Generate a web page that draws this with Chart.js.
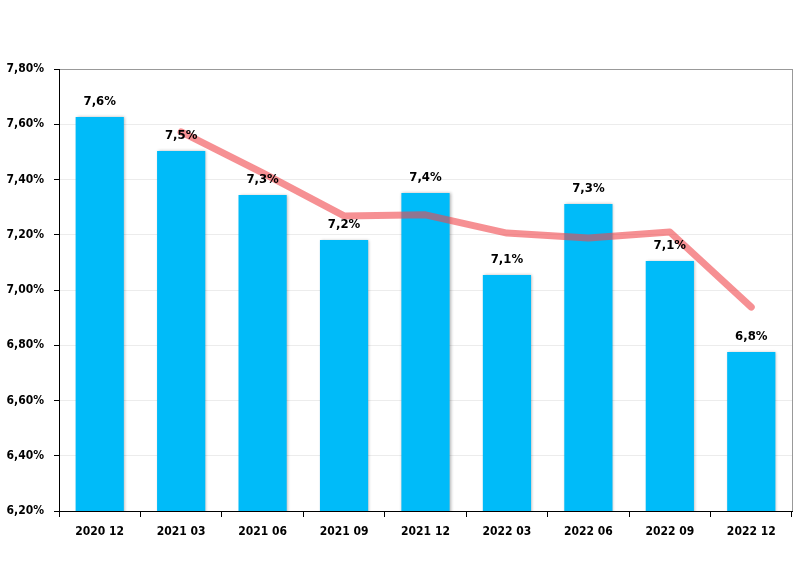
<!DOCTYPE html>
<html>
<head>
<meta charset="utf-8">
<script src="https://cdn.jsdelivr.net/npm/chart.js@4/dist/chart.umd.min.js"></script>
<style>
    html, body { margin: 0; padding: 0; background: #fff; }
    #wrap { width: 812px; height: 562px; }
</style>
</head>
<body>
<div id="wrap"><canvas id="myChart" width="812" height="562"></canvas></div>
<script>
// Chart data
const quarters = ['2020 12', '2021 03', '2021 06', '2021 09', '2021 12', '2022 03', '2022 06', '2022 09', '2022 12'];
const rateValues = [7.626, 7.503, 7.344, 7.181, 7.351, 7.054, 7.311, 7.105, 6.776];
const trendValues = [null, 7.572, 7.424, 7.268, 7.272, 7.206, 7.188, 7.210, 6.938];
const yTicks = [6.2, 6.4, 6.6, 6.8, 7.0, 7.2, 7.4, 7.6, 7.8];

const FONT = '"DejaVu Sans Condensed", "DejaVu Sans"';

function pct(v, digits) {
    return v.toFixed(digits).replace('.', ',') + '%';
}

// Bar shadow, labels above bars, right border of the plot
const extrasPlugin = {
    id: 'extras',
    beforeDatasetDraw(chart, args) {
        if (args.index === 0) {
            const ctx = chart.ctx;
            ctx.save();
            ctx.shadowColor = 'rgba(0,0,0,0.3)';
            ctx.shadowOffsetX = 1;
            ctx.shadowOffsetY = 0;
            ctx.shadowBlur = 3;
        }
    },
    afterDatasetDraw(chart, args) {
        if (args.index === 0) chart.ctx.restore();
    },
    afterDatasetsDraw(chart) {
        const ctx = chart.ctx;
        const area = chart.chartArea;
        ctx.save();
        ctx.strokeStyle = '#999';
        ctx.lineWidth = 1;
        ctx.beginPath();
        ctx.moveTo(area.right + 0.5, area.top);
        ctx.lineTo(area.right + 0.5, area.bottom);
        ctx.stroke();

        ctx.font = 'bold 13px ' + FONT;
        ctx.fillStyle = '#000';
        ctx.textAlign = 'center';
        ctx.textBaseline = 'middle';
        chart.getDatasetMeta(0).data.forEach((bar, i) => {
            ctx.fillText(pct(rateValues[i], 1), bar.x, bar.y - 15);
        });
        ctx.restore();
    }
};

const ctx = document.getElementById('myChart').getContext('2d');

new Chart(ctx, {
    type: 'bar',
    data: {
        labels: quarters,
        datasets: [{
            type: 'bar',
            data: rateValues,
            backgroundColor: '#00bbf9',
            barPercentage: 0.74,
            categoryPercentage: 0.8,
            order: 1
        }, {
            type: 'line',
            data: trendValues,
            borderColor: 'rgba(240, 70, 75, 0.6)',
            borderWidth: 7,
            borderCapStyle: 'round',
            borderJoinStyle: 'round',
            pointRadius: 0,
            tension: 0,
            fill: false,
            order: 0
        }]
    },
    plugins: [extrasPlugin],
    options: {
        responsive: false,
        animation: false,
        layout: { padding: { top: 69, right: 20, bottom: 0, left: 0 } },
        plugins: {
            legend: { display: false },
            tooltip: { enabled: false }
        },
        scales: {
            x: {
                afterFit(scale) { scale.height = 51; },
                grid: {
                    drawOnChartArea: false,
                    drawTicks: true,
                    tickLength: 6,
                    tickColor: '#000',
                    offset: true
                },
                border: { color: '#000', width: 1 },
                ticks: {
                    color: '#000',
                    font: { family: FONT, size: 12, weight: 'bold' },
                    padding: 8,
                    maxRotation: 0
                }
            },
            y: {
                min: 6.2,
                max: 7.8,
                afterFit(scale) { scale.width = 59; },
                afterBuildTicks(scale) {
                    scale.ticks = yTicks.map(v => ({ value: v }));
                },
                grid: {
                    color: c => (c.tick && c.tick.value === 7.8) ? '#999' : '#ececec',
                    tickColor: '#000',
                    tickLength: 5
                },
                border: { color: '#000', width: 1 },
                ticks: {
                    color: '#000',
                    font: { family: FONT, size: 12, weight: 'bold' },
                    padding: 10,
                    callback: v => pct(v, 2)
                }
            }
        }
    }
});
</script>
</body>
</html>
